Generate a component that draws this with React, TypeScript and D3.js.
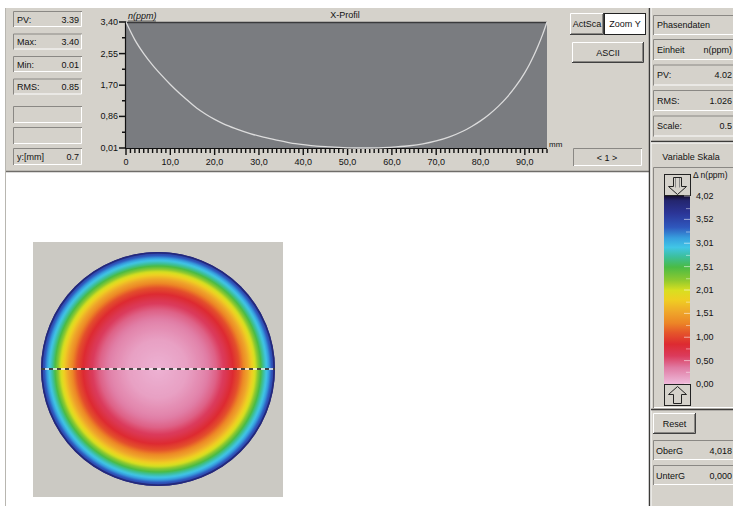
import React from 'react';
import * as d3 from 'd3';

// X-Profil data (mm, ppm)
const profileX = [0, 2, 4, 6, 8, 10, 12, 14, 16, 18, 20, 22, 25, 28, 31, 34, 37, 40, 43, 46, 49, 52, 55, 58, 61, 64, 67, 70, 73, 76, 78, 80, 82, 84, 86, 88, 90, 91, 92, 93, 94, 95];
const profileV = [3.40, 2.92, 2.55, 2.24, 1.97, 1.72, 1.49, 1.28, 1.08, 0.92, 0.78, 0.66, 0.52, 0.40, 0.30, 0.22, 0.15, 0.10, 0.06, 0.04, 0.02, 0.01, 0.01, 0.02, 0.04, 0.07, 0.12, 0.20, 0.31, 0.46, 0.59, 0.74, 0.92, 1.13, 1.38, 1.68, 2.04, 2.25, 2.49, 2.76, 3.06, 3.40];
const yTicks = [3.40, 2.55, 1.70, 0.86, 0.01];
const xTicks = [0, 10, 20, 30, 40, 50, 60, 70, 80, 90];

// heat map: radial fraction -> value (ppm)
const heatR = [0, 0.25, 0.40, 0.50, 0.58, 0.64, 0.69, 0.73, 0.77, 0.81, 0.84, 0.87, 0.90, 0.93, 0.95, 0.98, 1.0];
const heatV = [0.05, 0.15, 0.30, 0.45, 0.65, 0.85, 1.05, 1.30, 1.55, 1.85, 2.10, 2.40, 2.70, 2.95, 3.15, 3.45, 3.75];

// colour scale of "Variable Skala"
const scaleStops = [4.02, 3.92, 3.65, 3.35, 3.12, 2.92, 2.72, 2.5, 2.22, 2.0, 1.8, 1.55, 1.3, 1.1, 0.85, 0.6, 0.35, 0.1, 0.0];
const scaleColors = ['#150d30', '#24266f', '#2b3597', '#2f58bd', '#37a0df', '#41c6e6', '#3cbf9c', '#4abb45', '#8ec92f', '#d9df20', '#efcf22', '#efa82a', '#ec8526', '#e5562a', '#dd2a31', '#db3b5c', '#e07ba3', '#eaa9cb', '#f1badb'];
const barLabels = [4.02, 3.52, 3.01, 2.51, 2.01, 1.51, 1.00, 0.50, 0.00];

const leftStats = [['PV:', '3.39'], ['Max:', '3.40'], ['Min:', '0.01'], ['RMS:', '0.85']];
const rightStats = [['Einheit', 'n(ppm)'], ['PV:', '4.02'], ['RMS:', '1.026'], ['Scale:', '0.5']];
const lowerStats = [['OberG', '4,018'], ['UnterG', '0,000']];

const FONT = '"Liberation Sans", Arial, sans-serif';
const PANEL = '#d5d2cb';

const fmt = (v: number) => v.toFixed(2).replace('.', ',');

function Inset({ x, y, w, h, fill = PANEL }: any) {
  return (
    <g>
      <rect x={x} y={y} width={w} height={h} fill={fill} />
      <path d={`M${x + 0.5},${y + h}V${y + 0.5}H${x + w}`} stroke="#8a8884" fill="none" />
      <path d={`M${x + w - 0.5},${y + 1}V${y + h - 0.5}H${x + 1}`} stroke="#ffffff" fill="none" />
    </g>
  );
}

function Raised({ x, y, w, h, fill = PANEL }: any) {
  return (
    <g>
      <rect x={x} y={y} width={w} height={h} fill={fill} />
      <path d={`M${x + 0.5},${y + h}V${y + 0.5}H${x + w}`} stroke="#ffffff" fill="none" />
      <path d={`M${x + w - 0.5},${y}V${y + h - 0.5}H${x}`} stroke="#404040" fill="none" />
      <path d={`M${x + w - 1.5},${y + 1}V${y + h - 1.5}H${x + 1}`} stroke="#8a8884" fill="none" />
    </g>
  );
}

export default function App() {
  const x = d3.scaleLinear().domain([0, 95]).range([126, 547]);
  const y = d3.scaleLinear().domain([0.01, 3.40]).range([148, 22]);
  const color = d3.scaleLinear<string>().domain(scaleStops).range(scaleColors).clamp(true);
  const pts = profileX.map((px, i) => [px, profileV[i]] as [number, number]);
  const line = d3.line<[number, number]>().x(d => x(d[0])).y(d => y(d[1])).curve(d3.curveMonotoneX);

  const radial = d3.scaleLinear().domain(heatR).range(heatV).clamp(true);
  const radStops = d3.range(0, 1.0001, 0.01).map(o => ({ o, c: color(radial(o)) }));

  const yBar = d3.scaleLinear().domain([0, 4.02]).range([384, 196]);
  const minorY = d3.range(0, 4).map(k => 3.40 - (k * 2 + 1) * (3.39 / 8));
  const minorBar = d3.range(0.25, 4.02, 0.5);

  const cx = 158, cy = 369, R = 117;

  return (
    <svg width={733} height={506} style={{ position: 'absolute', left: 0, top: 0, display: 'block' }} fontFamily={FONT} fontSize={9}>
      <defs>
        <radialGradient id="heat" cx="0.5" cy="0.5" r="0.5">
          {radStops.map((s, i) => <stop key={i} offset={s.o} stopColor={s.c} />)}
        </radialGradient>
        <linearGradient id="bar" x1="0" y1="0" x2="0" y2="1">
          {scaleStops.map((v, i) => <stop key={i} offset={(4.02 - v) / 4.02} stopColor={scaleColors[i]} />)}
        </linearGradient>
        <clipPath id="clipAll"><rect x={0} y={0} width={733} height={506} /></clipPath>
      </defs>
      <rect x={0} y={0} width={733} height={506} fill="#ffffff" />
      {/* top panel */}
      <rect x={5} y={8} width={644} height={164} fill={PANEL} />
      <line x1={5} x2={649} y1={171.5} y2={171.5} stroke="#6f6d69" strokeWidth={1.5} />
      <line x1={5.5} x2={5.5} y1={8} y2={506} stroke="#b8b6b0" />
      {/* right panel */}
      <rect x={649} y={8} width={84} height={498} fill={PANEL} />
      <line x1={649.5} x2={649.5} y1={8} y2={506} stroke="#3c3b39" strokeWidth={1.5} />
      <line x1={651} x2={651} y1={8} y2={506} stroke="#ffffff" />

      {/* left stats */}
      {leftStats.map((s, i) => {
        const by = 11 + i * 22.5;
        return (
          <g key={i}>
            <Inset x={13} y={by} w={69} h={16} />
            <text x={17} y={by + 11.5} fill="#111">{s[0]}</text>
            <text x={79} y={by + 11.5} fill="#111" textAnchor="end">{s[1]}</text>
          </g>
        );
      })}
      <Inset x={13} y={106} w={69} h={17} />
      <Inset x={13} y={127} w={69} h={17} />
      <Inset x={13} y={148} w={69} h={17} />
      <text x={17} y={160} fill="#111">y:[mm]</text>
      <text x={79} y={160} fill="#111" textAnchor="end">0.7</text>

      {/* profile plot */}
      <rect x={126} y={22} width={421} height={126} fill="#7a7c80" />
      <line x1={126} x2={547} y1={22.5} y2={22.5} stroke="#3a3a3c" strokeWidth={1.5} />
      <line x1={125.5} x2={125.5} y1={22} y2={148} stroke="#111" strokeWidth={1.2} />
      <line x1={125} x2={547} y1={148.5} y2={148.5} stroke="#111" strokeWidth={1.2} />
      <path d={line(pts) || ''} fill="none" stroke="#dcdcdc" strokeWidth={1.3} />
      {yTicks.map((t, i) => (
        <g key={i}>
          <line x1={119} x2={126} y1={y(t)} y2={y(t)} stroke="#111" strokeWidth={1.5} />
          <text x={118} y={y(t) + 3} textAnchor="end" fill="#111">{fmt(t)}</text>
        </g>
      ))}
      {minorY.map((t, i) => (
        <line key={i} x1={122} x2={126} y1={y(t)} y2={y(t)} stroke="#111" strokeWidth={1.5} />
      ))}
      {d3.range(0, 96).map(t => (
        <line key={t} x1={x(t)} x2={x(t)} y1={149} y2={t % 10 === 0 ? 155 : 153} stroke="#111" strokeWidth={1.4} />
      ))}
      {xTicks.map(t => (
        <text key={t} x={x(t)} y={165} textAnchor="middle" fill="#111">{t === 0 ? '0' : t.toFixed(1).replace('.', ',')}</text>
      ))}
      <text x={128} y={19} fill="#111" fontStyle="italic">n(ppm)</text>
      <line x1={128} x2={156} y1={21} y2={21} stroke="#111" strokeWidth={0.6} />
      <text x={345} y={18} textAnchor="middle" fill="#111">X-Profil</text>
      <text x={549} y={147} fill="#111" fontSize={8}>mm</text>

      {/* buttons */}
      <Raised x={570} y={13} w={34} h={22} />
      <text x={587} y={27} textAnchor="middle" fill="#111">ActSca</text>
      <rect x={604.5} y={13.5} width={41} height={21} fill="#ffffff" stroke="#222" />
      <text x={625} y={27} textAnchor="middle" fill="#111">Zoom Y</text>
      <Raised x={572} y={42} w={72} h={21} />
      <text x={608} y={56} textAnchor="middle" fill="#111">ASCII</text>
      <Inset x={573} y={148} w={69} h={18} />
      <text x={607} y={161} textAnchor="middle" fill="#111">{'< 1 >'}</text>

      {/* right panel content */}
      <g clipPath="url(#clipAll)">
        <Inset x={653} y={15} w={85} h={20} />
        <text x={657} y={28} fill="#111">Phasendaten</text>
        {rightStats.map((s, i) => {
          const by = 39 + i * 25.5;
          return (
            <g key={i}>
              <Inset x={653} y={by} w={85} h={21} />
              <text x={657} y={by + 13.5} fill="#111">{s[0]}</text>
              <text x={732} y={by + 13.5} fill="#111" textAnchor="end">{s[1]}</text>
            </g>
          );
        })}
        <line x1={651} x2={733} y1={141.5} y2={141.5} stroke="#3c3b39" strokeWidth={1.5} />
        <line x1={651} x2={733} y1={143} y2={143} stroke="#ffffff" />
        <text x={691} y={160} textAnchor="middle" fill="#111">Variable Skala</text>
        <Inset x={653} y={167} w={85} h={241} />
        <text x={693} y={178} fill="#111" fontSize={8.5}>Δ n(ppm)</text>
        {/* top arrow box */}
        <rect x={664.5} y={174.5} width={26} height={21} fill={PANEL} stroke="#222" />
        <path d="M673.5,177.5H681.5V186.5H686.5L677.5,194.5L668.5,186.5H673.5Z" fill="none" stroke="#222" />
        <path d="M675.5,178V187.5M679.5,178V187.5" stroke="#888" fill="none" />
        {/* colour bar */}
        <rect x={664} y={196} width={26} height={188} fill="url(#bar)" />
        {barLabels.map((v, i) => (
          <g key={i}>
            <line x1={684} x2={690} y1={yBar(v)} y2={yBar(v)} stroke="#ffffff" strokeOpacity={0.55} />
            <text x={696} y={yBar(v) + 3} fill="#111">{fmt(v)}</text>
          </g>
        ))}
        {minorBar.map((v, i) => (
          <line key={i} x1={686} x2={690} y1={yBar(v)} y2={yBar(v)} stroke="#ffffff" strokeOpacity={0.45} />
        ))}
        {/* bottom arrow box */}
        <rect x={664.5} y={384.5} width={26} height={21} fill={PANEL} stroke="#222" />
        <path d="M673.5,403.5H681.5V394.5H686.5L677.5,386.5L668.5,394.5H673.5Z" fill="none" stroke="#222" />
        <line x1={651} x2={733} y1={409.5} y2={409.5} stroke="#3c3b39" strokeWidth={1.5} />
        <Raised x={653} y={413} w={43} h={21} />
        <text x={674.5} y={427} textAnchor="middle" fill="#111">Reset</text>
        {lowerStats.map((s, i) => {
          const by = 440 + i * 25;
          return (
            <g key={i}>
              <Inset x={653} y={by} w={85} h={20} />
              <text x={656} y={by + 13.5} fill="#111">{s[0]}</text>
              <text x={732} y={by + 13.5} fill="#111" textAnchor="end">{s[1]}</text>
            </g>
          );
        })}
      </g>

      {/* heat map */}
      <rect x={33} y={242} width={250} height={255} fill="#cbc9c3" />
      <circle cx={cx} cy={cy} r={R} fill="url(#heat)" />
      <circle cx={cx} cy={cy} r={R - 0.8} fill="none" stroke="#24287a" strokeWidth={1.6} />
      <line x1={cx - R} x2={cx + R} y1={cy} y2={cy} stroke="#f4f4f4" strokeWidth={1.6} />
      <line x1={cx - R} x2={cx + R} y1={cy} y2={cy} stroke="#111" strokeWidth={1.6} strokeDasharray="4 4" />
    </svg>
  );
}
